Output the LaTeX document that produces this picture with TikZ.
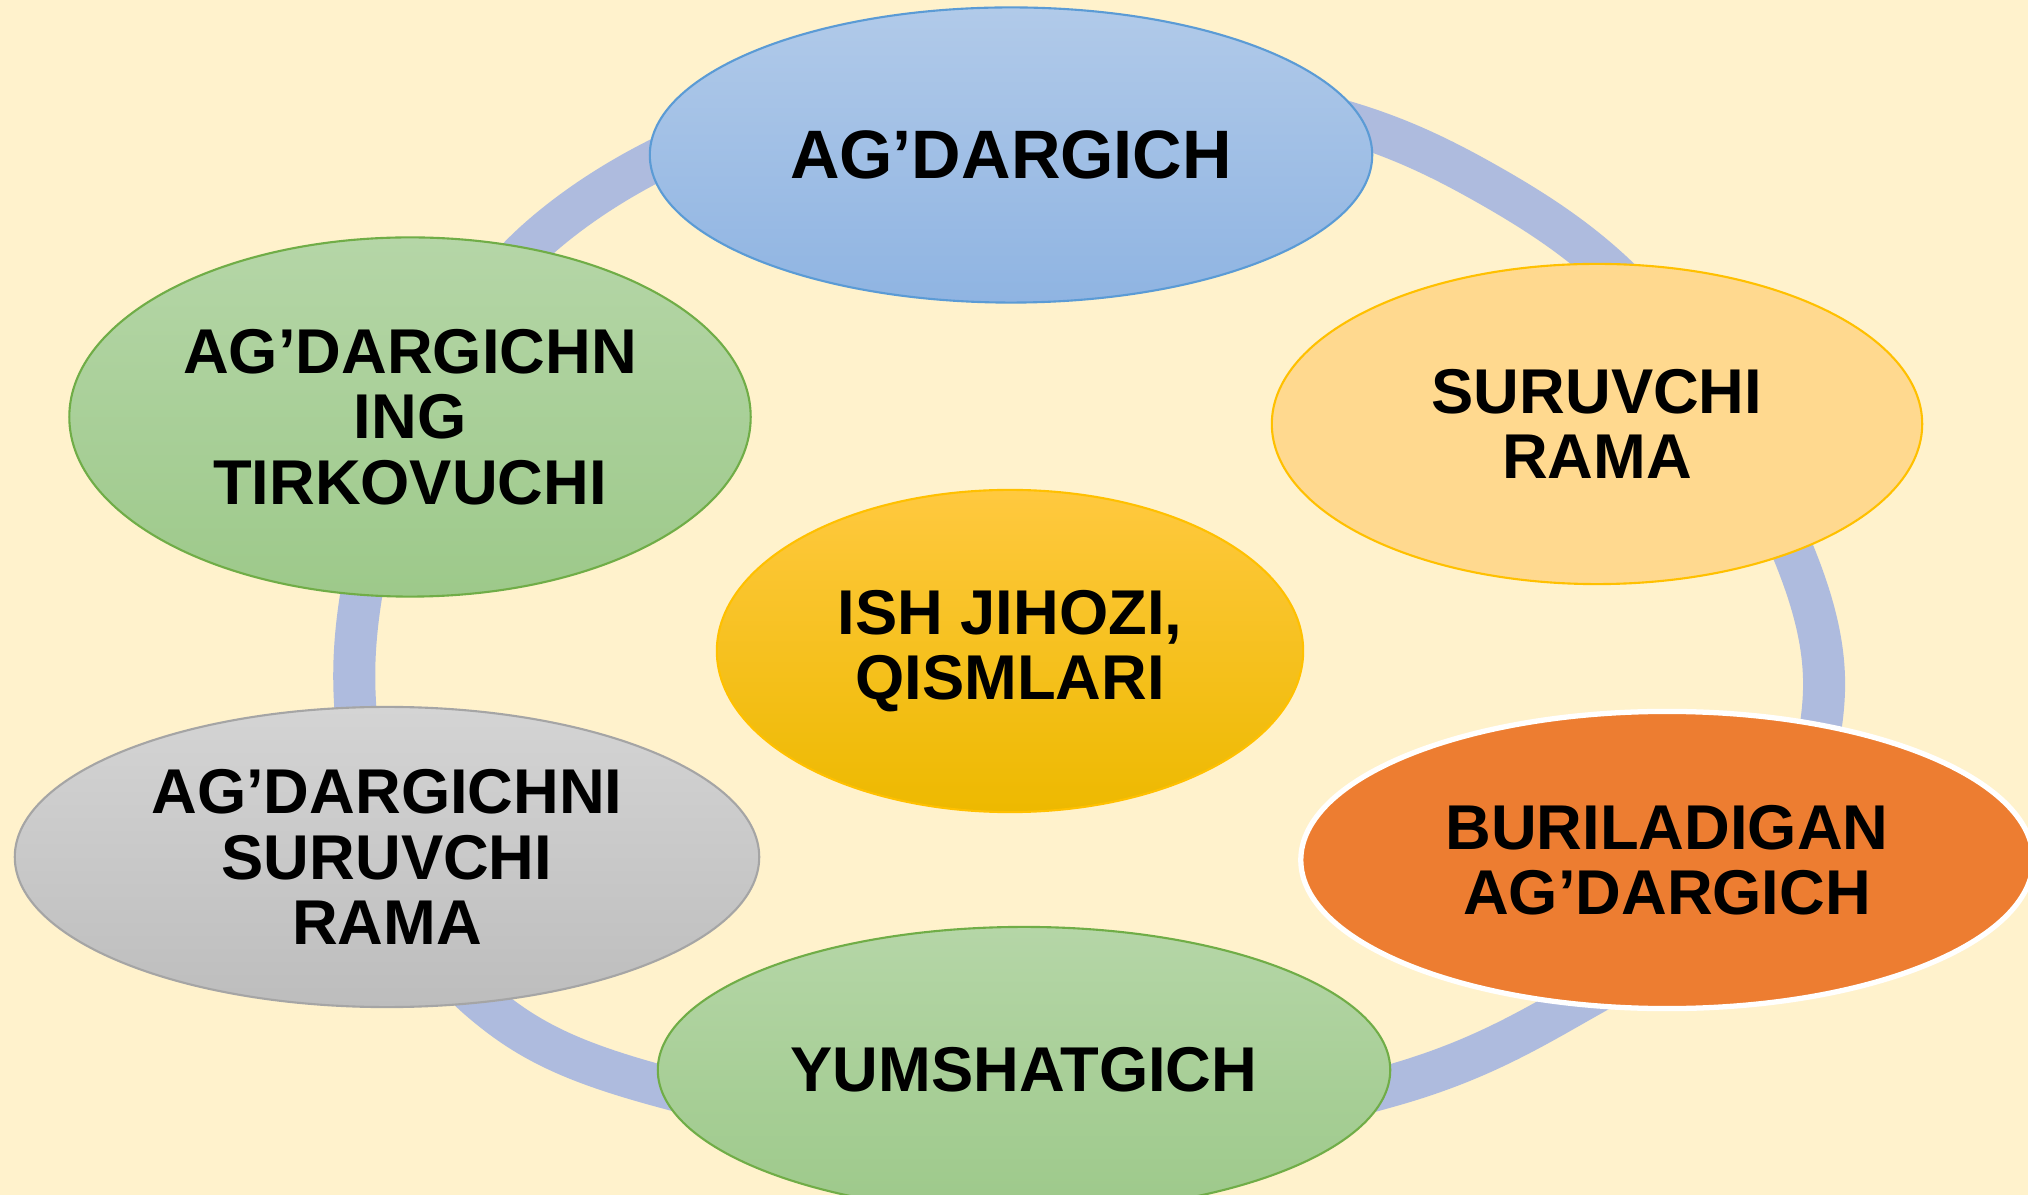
\documentclass[tikz,border=0pt]{standalone}
\usepackage{fontspec}
\setmainfont{Liberation Sans}
\usetikzlibrary{shapes.geometric}

\definecolor{bgfill}{HTML}{FFF2CC}
\definecolor{ringblue}{HTML}{AEBBDE}
\definecolor{blueA}{HTML}{B1CAE9}
\definecolor{blueB}{HTML}{8FB4E2}
\definecolor{blueline}{HTML}{5B9BD5}
\definecolor{peach}{HTML}{FFD98F}
\definecolor{goldline}{HTML}{FFC000}
\definecolor{orangefill}{HTML}{ED7D31}
\definecolor{greenA}{HTML}{B5D6A7}
\definecolor{greenB}{HTML}{9DC98A}
\definecolor{greenline}{HTML}{70AD47}
\definecolor{grayA}{HTML}{D4D4D4}
\definecolor{grayB}{HTML}{BDBDBD}
\definecolor{grayline}{HTML}{A5A5A5}
\definecolor{goldA}{HTML}{FFC93F}
\definecolor{goldB}{HTML}{EDB900}

\tikzset{
  bubble/.style={ellipse, inner sep=0pt, align=center, line width=0.6pt,
    font=\bfseries\fontsize{18}{18.6}\selectfont},
  greenbubble/.style={bubble, top color=greenA, bottom color=greenB, draw=greenline},
  ringline/.style={draw=ringblue, line width=0.42cm}
}

\begin{document}
\begin{tikzpicture}[x=0.01cm, y=-0.01cm]
    \useasboundingbox (0,0) rectangle (2028,1195);
    \fill[bgfill] (0,0) rectangle (2028,1195);

    \draw[ringline] plot[smooth cycle, tension=0.6] coordinates {
        (1045,82) (1300,110) (1480,180) (1640,300) (1770,500) (1824,690)
        (1760,880) (1600,990) (1390,1086) (1030,1150) (660,1086) (480,1000)
        (385,850) (355,650) (410,430) (537,240) (760,118)};

    \node[bubble, minimum width=7.22cm, minimum height=2.95cm,
          top color=blueA, bottom color=blueB, draw=blueline,
          font=\bfseries\fontsize{19.5}{20}\selectfont] (agdargich) at (1011,155) {AG’DARGICH};
    \node[bubble, minimum width=6.50cm, minimum height=3.20cm,
          fill=peach, draw=goldline] (rama) at (1597,424) {SURUVCHI\\RAMA};
    \node[bubble, minimum width=7.32cm, minimum height=2.97cm,
          fill=orangefill, draw=white, line width=1.5pt] (buril) at (1667,860) {BURILADIGAN\\AG’DARGICH};
    \node[greenbubble, minimum width=7.32cm, minimum height=2.86cm] (yumshat) at (1024,1070) {YUMSHATGICH};
    \node[bubble, minimum width=7.44cm, minimum height=3.00cm,
          top color=grayA, bottom color=grayB, draw=grayline] (surama) at (387,857) {AG’DARGICHNI\\SURUVCHI\\RAMA};
    \node[greenbubble, minimum width=6.81cm, minimum height=3.59cm] (tirkov) at (410,417) {AG’DARGICHN\\ING\\TIRKOVUCHI};
    \node[bubble, minimum width=5.86cm, minimum height=3.22cm,
          top color=goldA, middle color=goldline, bottom color=goldB, draw=goldline] (ish) at (1010,651) {ISH JIHOZI,\\QISMLARI};
\end{tikzpicture}
\end{document}
